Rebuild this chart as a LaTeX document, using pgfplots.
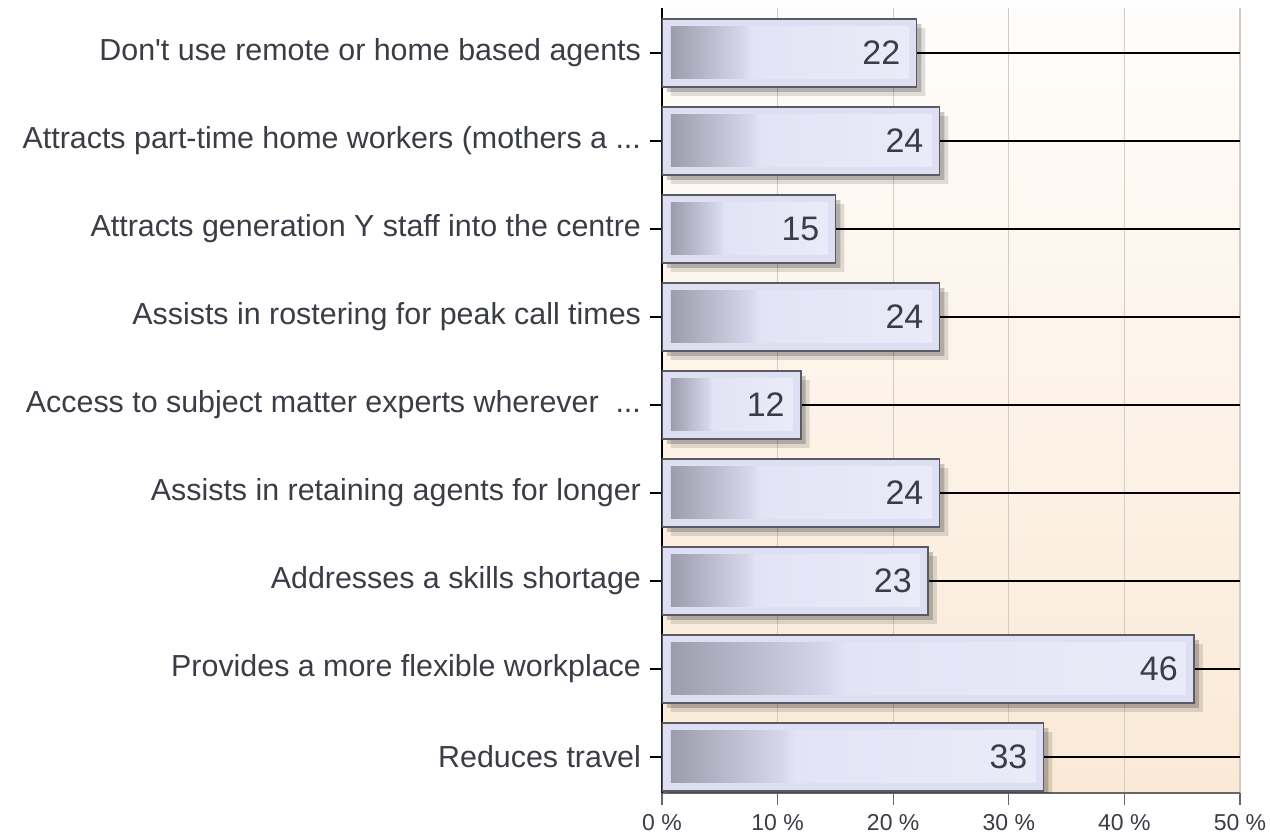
\documentclass[border=0pt]{standalone}
\usepackage{fontspec}
\setmainfont{Liberation Sans}
\usepackage{pgfplots}
\pgfplotsset{compat=1.18}
\usepackage{pgfplotstable}

\definecolor{textc}{HTML}{3A3C46}
\definecolor{borderc}{HTML}{5A5A62}
\definecolor{framec}{HTML}{DFDFF3}
\definecolor{bdark}{HTML}{9D9CAD}
\definecolor{bmid}{HTML}{D6D6EA}
\definecolor{blight}{HTML}{E3E3F6}
\definecolor{blight2}{HTML}{EAEAF8}
\definecolor{bgtop}{HTML}{FFFDFB}
\definecolor{bgbot}{HTML}{FAE9D6}
\definecolor{gridc}{HTML}{D2CCC4}

\pgfdeclarehorizontalshading{barshade}{100bp}{color(0bp)=(bdark); color(25bp)=(bdark); color(40bp)=(bmid); color(42bp)=(blight); color(75bp)=(blight2); color(100bp)=(blight2)}

\newcommand{\dd}{.{}.{}.}

% c = position from the bottom, v = percent
\pgfplotstableread{
c v
0 33
1 46
2 23
3 24
4 12
5 24
6 15
7 24
8 22
}\resp

\begin{document}
\begin{tikzpicture}
\useasboundingbox (0,0) rectangle (635pt,417.5pt);
\begin{axis}[
  at={(331pt,21pt)}, anchor=south west,
  scale only axis, width=289pt, height=392.5pt,
  xmin=0, xmax=50, ymin=-0.41, ymax=8.51,
  axis background/.style={shade, top color=bgtop, bottom color=bgbot},
  axis x line*=bottom, axis y line*=left,
  axis line style={-},
  x axis line style={gray!80!black, line width=0.6pt},
  y axis line style={black, line width=1pt},
  tick align=outside, tick pos=left,
  major tick length=6pt,
  xtick={0,10,20,30,40,50},
  xticklabels={0 \%,10 \%,20 \%,30 \%,40 \%,50 \%},
  ytick={0,1,2,3,4,5,6,7,8},
  yticklabels={{Reduces travel},{Provides a more flexible workplace},{Addresses a skills shortage},{Assists in retaining agents for longer},{Access to subject matter experts wherever\ \ \dd},{Assists in rostering for peak call times},{Attracts generation Y staff into the centre},{Attracts part-time home workers (mothers a \dd},{Don{\textquotesingle}t use remote or home based agents}},
  x tick label style={font=\fontsize{11.5}{13}\selectfont, text=textc, yshift=-1pt},
  y tick label style={font=\fontsize{15.2}{18}\selectfont, text=textc, xshift=-1pt},
  xtick style={gray!80!black, line width=0.6pt},
  ytick style={black, line width=1pt},
  xmajorgrids, ymajorgrids,
  x grid style={gridc, line width=0.6pt},
  y grid style={black, line width=1pt},
]
% soft shadow
\addplot[xbar, bar width=0.77, bar shift=0pt, draw=none, fill=black, fill opacity=0.12, xshift=4.5pt, yshift=-4.5pt, forget plot] table[x=v,y=c]{\resp};
\addplot[xbar, bar width=0.77, bar shift=0pt, draw=none, fill=black, fill opacity=0.2, xshift=2.5pt, yshift=-2.5pt, forget plot] table[x=v,y=c]{\resp};
% outer bar
\addplot[xbar, bar width=0.77, bar shift=0pt, draw=borderc, line width=0.8pt, fill=framec, forget plot] table[x=v,y=c]{\resp};
% inner shaded bar with value, one plot per bar so each bar gets its own gradient
\pgfplotsinvokeforeach{0,...,8}{
\addplot[xbar, bar width=0.59, bar shift=0pt, draw=none, shade, shading=barshade, xshift=4.5pt,
  restrict y to domain=#1:#1, forget plot,
  point meta=explicit, nodes near coords,
  /pgf/number format/assume math mode=true,
  nodes near coords style={anchor=east, xshift=-0.5pt, font=\fontsize{17}{20}\selectfont, text=textc}]
  table[x expr=\thisrow{v}-1.47, y=c, meta=v]{\resp};
}
\end{axis}
\end{tikzpicture}
\end{document}
